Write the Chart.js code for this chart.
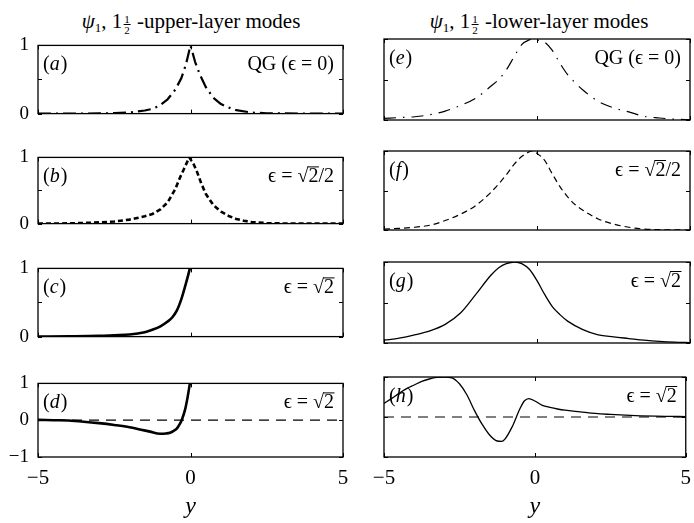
<!DOCTYPE html>
<html><head><meta charset="utf-8">
<script src="https://cdn.jsdelivr.net/npm/chart.js@4/dist/chart.umd.min.js"></script>
<style>
html,body{margin:0;padding:0;background:#fff;overflow:hidden;}
#fig{position:relative;width:694px;height:523px;overflow:hidden;background:#fff;font-family:"Liberation Serif","DejaVu Serif",serif;color:#000;}
#fig canvas{position:absolute;}
.ttl{position:absolute;top:9px;font-size:21px;line-height:24px;white-space:nowrap;transform:translateX(-50%);}
.ttl sub{font-size:13px;vertical-align:-4px;line-height:0;}
.frac{display:inline-block;vertical-align:-6px;font-size:11px;line-height:10px;text-align:center;margin:0 1px 0 1px;}
.frac .n{display:block;border-bottom:1px solid #000;padding:0 1px;}
.frac .d{display:block;}
</style></head><body>
<div id="fig">
<div class="ttl" style="left:191px"><i>ψ</i><sub>1</sub>, 1<span class="frac"><span class="n">1</span><span class="d">2</span></span> -upper-layer modes</div>
<div class="ttl" style="left:539px"><i>ψ</i><sub>1</sub>, 1<span class="frac"><span class="n">1</span><span class="d">2</span></span> -lower-layer modes</div>
</div>
<script>
// ---------- data ----------
const X_TICKS = [-5, 0, 5];
const Y_TICKS_UNIT = [0, 0.5, 1];
const Y_TICKS_SIGNED = [-1, 0, 1];
const ZERO_X = [-5, 5];
const ZERO_Y = [0, 0];

// (a) QG, upper layer
const A_X = [-5,-3,-2.5,-2,-1.5,-1.25,-1,-0.75,-0.5,-0.3,-0.15,0,0.15,0.3,0.5,0.75,1,1.25,1.5,2,2.5,3,5];
const A_Y = [0,0.002,0.006,0.015,0.045,0.07,0.12,0.21,0.35,0.52,0.72,1.0,0.76,0.58,0.39,0.23,0.14,0.09,0.05,0.015,0.005,0.002,0];
// (b) eps = sqrt2/2, upper layer
const B_X = [-5,-4,-3.5,-3,-2.5,-2,-1.75,-1.5,-1.25,-1,-0.75,-0.5,-0.35,-0.2,-0.04,0.1,0.2,0.35,0.5,0.75,1,1.25,1.5,1.75,2,2.5,3,4,5];
const B_Y = [0,0.003,0.01,0.018,0.032,0.06,0.085,0.11,0.145,0.21,0.32,0.52,0.69,0.84,1.0,0.9,0.8,0.61,0.45,0.28,0.18,0.115,0.07,0.042,0.025,0.008,0.002,0,0];
// (c) eps = sqrt2, upper layer
const C_X = [-5,-4,-3,-2.5,-2,-1.5,-1.25,-1,-0.75,-0.6,-0.45,-0.3,-0.2,-0.1,-0.02];
const C_Y = [0,0.003,0.01,0.02,0.03,0.065,0.1,0.145,0.22,0.28,0.38,0.55,0.7,0.86,1.0];
// (d) eps = sqrt2, upper layer (second mode)
const D_X = [-5,-4.5,-4,-3.5,-3,-2.5,-2,-1.66,-1.33,-1,-0.8,-0.67,-0.55,-0.45,-0.35,-0.29,-0.18,-0.1,-0.02];
const D_Y = [0.01,0,-0.01,-0.04,-0.08,-0.13,-0.19,-0.25,-0.31,-0.37,-0.36,-0.34,-0.29,-0.23,-0.1,0,0.28,0.6,1.0];
// (e) QG, lower layer
const E_X = [-5,-4.5,-4,-3.5,-3,-2.5,-2,-1.5,-1.25,-1,-0.75,-0.5,-0.25,-0.1,0,0.25,0.5,0.75,1,1.25,1.5,2,2.5,3,3.5,4,4.5,5];
const E_Y = [0.02,0.03,0.04,0.065,0.11,0.18,0.27,0.42,0.5,0.62,0.78,0.93,0.99,1.0,0.99,0.96,0.86,0.7,0.56,0.46,0.37,0.23,0.15,0.1,0.045,0.025,0.01,0.005];
// (f) eps = sqrt2/2, lower layer
const F_X = [-5,-4.5,-4,-3.5,-3,-2.5,-2,-1.5,-1,-0.75,-0.5,-0.3,-0.16,0,0.25,0.5,0.75,1,1.25,1.5,2,2.5,3,3.5,4,4.5,5];
const F_Y = [0.01,0.02,0.035,0.06,0.12,0.2,0.31,0.48,0.7,0.83,0.93,0.98,1.0,0.97,0.88,0.71,0.55,0.42,0.32,0.25,0.14,0.075,0.035,0.012,0.004,0.001,0];
// (g) eps = sqrt2, lower layer
const G_X = [-5,-4.5,-4,-3.5,-3,-2.5,-2,-1.5,-1.25,-1,-0.72,-0.5,-0.25,0,0.25,0.5,0.75,1,1.5,2,2.5,3,3.5,4,4.5,5];
const G_Y = [0.035,0.06,0.1,0.15,0.23,0.37,0.6,0.84,0.93,0.98,1.0,0.98,0.91,0.77,0.6,0.45,0.35,0.27,0.165,0.1,0.075,0.055,0.035,0.02,0.01,0.005];
// (h) eps = sqrt2, lower layer (second mode)
const H_X = [-5,-4.75,-4.5,-4.25,-4,-3.75,-3.5,-3.25,-3,-2.75,-2.5,-2.25,-2,-1.75,-1.5,-1.25,-1.1,-1,-0.75,-0.5,-0.35,-0.2,0,0.25,0.5,0.75,1,1.5,2,2.5,3,3.5,4,4.5,5];
const H_Y = [0.34,0.46,0.59,0.71,0.8,0.89,0.95,0.99,1.0,0.98,0.83,0.55,0.16,-0.18,-0.45,-0.6,-0.61,-0.56,-0.24,0.2,0.4,0.46,0.4,0.29,0.24,0.2,0.17,0.13,0.09,0.065,0.045,0.03,0.02,0.015,0.01];

const LETTERS = ['a','b','c','d','e','f','g','h'];
const NOTES = ['QG (ϵ = 0)','ϵ = √2/2','ϵ = √2','ϵ = √2','QG (ϵ = 0)','ϵ = √2/2','ϵ = √2','ϵ = √2'];
const X_TITLE = 'y';

// ---------- layout / style ----------
const SERIF = "'Liberation Serif','DejaVu Serif',serif";
Chart.defaults.font.family = SERIF;
Chart.defaults.color = '#000';

const ROW_TOP = [39, 151, 262, 377];
const ROW_H = [81, 79, 81, 80];
const FRAME_L = [38, 384];
const FRAME_R = [343, 690];
const CAN_L = [0, 340];
const CAN_W = 360;
const PAD_T = 14;

const PANELS = [
  {col:0,row:0,xs:A_X,ys:A_Y,w:2.2,dash:[13,5,2,5],smooth:false},
  {col:0,row:1,xs:B_X,ys:B_Y,w:2.6,dash:[5,3],smooth:false},
  {col:0,row:2,xs:C_X,ys:C_Y,w:2.6,dash:[],smooth:true},
  {col:0,row:3,xs:D_X,ys:D_Y,w:2.6,dash:[],smooth:true,zero:true},
  {col:1,row:0,xs:E_X,ys:E_Y,w:1.2,dash:[12,7,1.5,7],smooth:true},
  {col:1,row:1,xs:F_X,ys:F_Y,w:1.2,dash:[6,4],smooth:true},
  {col:1,row:2,xs:G_X,ys:G_Y,w:1.3,dash:[],smooth:true},
  {col:1,row:3,xs:H_X,ys:H_Y,w:1.3,dash:[],smooth:true,zero:true},
];

function fmt(v){ return v < 0 ? '\u2212' + Math.abs(v) : String(v); }

const framePlugin = {
  id: 'frameTicks',
  afterDatasetsDraw(chart){
    const {ctx, chartArea: a, scales: {x, y}} = chart;
    ctx.save();
    ctx.strokeStyle = '#000';
    ctx.lineWidth = 1.3;
    ctx.strokeRect(a.left, a.top, a.right - a.left, a.bottom - a.top);
    ctx.lineWidth = 1;
    const L = 4;
    ctx.beginPath();
    x.ticks.forEach(t => {
      const px = Math.round(x.getPixelForValue(t.value)) + 0.5;
      ctx.moveTo(px, a.bottom); ctx.lineTo(px, a.bottom - L);
      ctx.moveTo(px, a.top); ctx.lineTo(px, a.top + L);
    });
    y.ticks.forEach(t => {
      const py = Math.round(y.getPixelForValue(t.value)) + 0.5;
      ctx.moveTo(a.left, py); ctx.lineTo(a.left + L, py);
      ctx.moveTo(a.right, py); ctx.lineTo(a.right - L, py);
    });
    ctx.stroke();
    ctx.restore();
  }
};

function drawNote(ctx, text, xRight, yBase, size){
  ctx.font = size + 'px ' + SERIF;
  ctx.textBaseline = 'alphabetic';
  const i = text.indexOf('√');
  if (i < 0) { ctx.textAlign = 'right'; ctx.fillText(text, xRight, yBase); return; }
  const pre = text.slice(0, i), rad = text.charAt(i + 1), post = text.slice(i + 2);
  const mS = ctx.measureText('√');
  const wPre = ctx.measureText(pre).width, wS = mS.width,
        wR = ctx.measureText(rad).width, wP = ctx.measureText(post).width;
  let x = xRight - (wPre + wS + wR + wP);
  ctx.textAlign = 'left';
  ctx.fillText(pre, x, yBase); x += wPre;
  ctx.fillText('√', x, yBase); x += wS;
  ctx.fillText(rad, x, yBase);
  const topY = yBase - (mS.actualBoundingBoxAscent || size * 0.8);
  ctx.fillRect(x - 1, topY, wR + 1.5, 1);
  x += wR;
  ctx.fillText(post, x, yBase);
}

const notePlugin = {
  id: 'panelNotes',
  afterDraw(chart){
    const o = chart.options.plugins.panelNotes;
    const {ctx, chartArea: a} = chart;
    ctx.save();
    ctx.fillStyle = '#000';
    const base = a.top + 25;
    ctx.textAlign = 'left'; ctx.textBaseline = 'alphabetic';
    let x = a.left + 5;
    ctx.font = '20px ' + SERIF;
    ctx.fillText('(', x, base); x += ctx.measureText('(').width;
    ctx.font = 'italic 20px ' + SERIF;
    ctx.fillText(o.letter, x, base); x += ctx.measureText(o.letter).width + 1;
    ctx.font = '20px ' + SERIF;
    ctx.fillText(')', x, base);
    drawNote(ctx, o.note, a.right - 9, base, 20);
    ctx.restore();
  }
};

const fig = document.getElementById('fig');
PANELS.forEach((p, k) => {
  const bottomRow = p.row === 3;
  const extraB = bottomRow ? 523 - (ROW_TOP[3] + ROW_H[3]) : 14;
  const cv = document.createElement('canvas');
  const h = PAD_T + ROW_H[p.row] + extraB;
  cv.width = CAN_W; cv.height = h;
  cv.style.left = CAN_L[p.col] + 'px';
  cv.style.top = (ROW_TOP[p.row] - PAD_T) + 'px';
  cv.style.width = CAN_W + 'px'; cv.style.height = h + 'px';
  fig.appendChild(cv);

  const yTicks = p.zero ? Y_TICKS_SIGNED : Y_TICKS_UNIT;
  const datasets = [{
    data: p.xs.map((x, i) => ({x: x, y: p.ys[i]})),
    borderColor: '#000', borderWidth: p.w, borderDash: p.dash,
    pointRadius: 0, fill: false,
    tension: 0, cubicInterpolationMode: p.smooth ? 'monotone' : 'default',
    borderCapStyle: 'butt', borderJoinStyle: 'round'
  }];
  if (p.zero) datasets.push({
    data: ZERO_X.map((x, i) => ({x: x, y: ZERO_Y[i]})),
    borderColor: '#000', borderWidth: 1.2, borderDash: [10, 7],
    pointRadius: 0, fill: false, tension: 0
  });

  new Chart(cv, {
    type: 'line',
    data: {datasets},
    options: {
      responsive: false, animation: false, devicePixelRatio: 1,
      layout: {padding: {top: PAD_T, right: CAN_L[p.col] + CAN_W - FRAME_R[p.col], bottom: 0, left: 0}},
      plugins: {
        legend: {display: false}, tooltip: {enabled: false},
        panelNotes: {letter: LETTERS[k], note: NOTES[k]}
      },
      scales: {
        x: {
          type: 'linear', min: -5, max: 5,
          afterBuildTicks: s => { s.ticks = X_TICKS.map(v => ({value: v})); },
          grid: {display: false, drawTicks: false}, border: {display: false},
          ticks: {display: bottomRow, padding: 9, font: {size: 21}, maxRotation: 0, autoSkip: false, callback: v => fmt(v)},
          title: {display: bottomRow, text: X_TITLE, font: {size: 24, style: 'italic'}, padding: {top: 0, bottom: 2}},
          afterFit: s => { s.height = extraB; }
        },
        y: {
          type: 'linear', min: yTicks[0], max: yTicks[yTicks.length - 1],
          afterBuildTicks: s => { s.ticks = yTicks.map(v => ({value: v})); },
          grid: {display: false, drawTicks: false}, border: {display: false},
          ticks: {display: p.col === 0, padding: 9, font: {size: 19}, autoSkip: false,
                  callback: v => (Math.abs(v) === 0.5 ? '' : fmt(v))},
          afterFit: s => { s.width = FRAME_L[p.col] - CAN_L[p.col]; }
        }
      }
    },
    plugins: [framePlugin, notePlugin]
  });
});
</script>
</body></html>
